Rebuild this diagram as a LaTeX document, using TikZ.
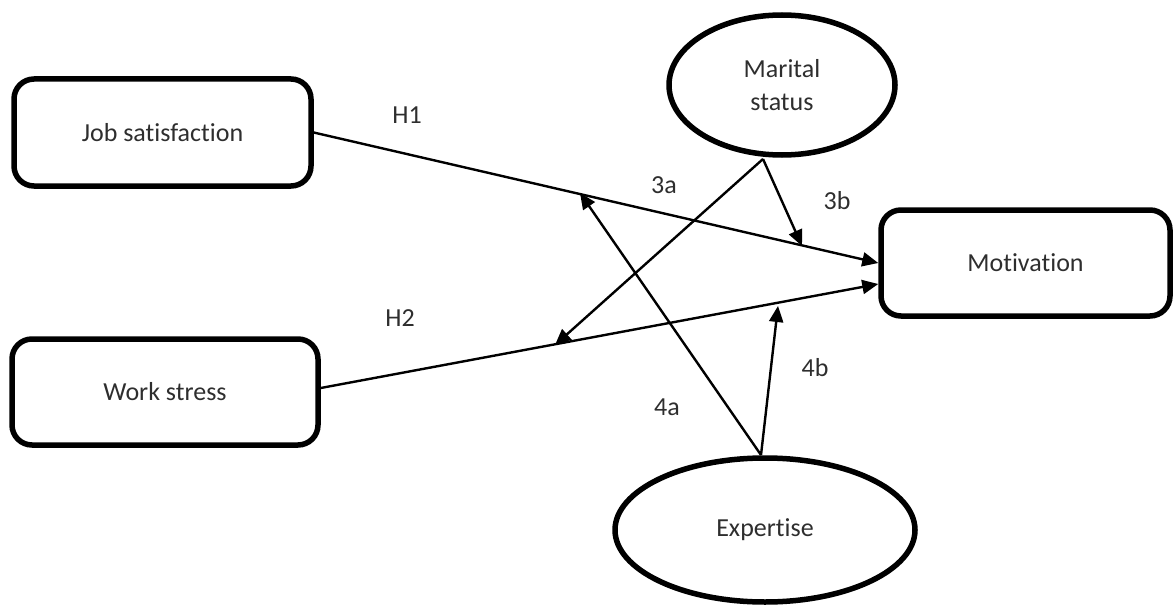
\documentclass[tikz,border=0pt]{standalone}
\usepackage{fontspec}
\setmainfont{Carlito}[Ligatures=NoCommon]
\usetikzlibrary{arrows.meta,shapes.geometric,calc}
\begin{document}
\begin{tikzpicture}[x=1pt,y=-1pt,
  txt/.style={text=black!82,font=\fontsize{26}{33}\selectfont},
  box/.style={txt,draw=black,line width=5.5pt,rounded corners=20pt,rectangle,inner sep=0pt},
  oval/.style={txt,draw=black,line width=5.5pt,line join=round,line cap=round,ellipse,inner sep=0pt,align=center},
  conn/.style={draw=black,line width=2.4pt,-{Triangle[length=16pt,width=14pt]}},
  lab/.style={txt}]
\useasboundingbox (0,0) rectangle (1173,610);
\node[box,minimum width=297pt,minimum height=107pt] (js) at (162.5,132.5) {Job satisfaction};
\node[box,minimum width=306pt,minimum height=106pt] (ws) at (165,392) {Work stress};
\node[box,minimum width=289pt,minimum height=106pt] (mot) at (1025.5,263) {Motivation};
\node[oval,minimum width=226pt,minimum height=140pt] (ms) at (782,85) {Marital\\status};
\node[oval,minimum width=300pt,minimum height=144pt] (ex) at (765,530) {Expertise};
% connector end points
\coordinate (h2s) at ($(ws.east)+(0,-4)$);
\coordinate (h2e) at ($(mot.west)+(0,21)$);
\coordinate (apM) at (763,159);
\coordinate (apE) at (761,455);
\coordinate (t3a) at (555,345);
\coordinate (t3b) at (802,246);
\coordinate (t4a) at (580,193);
\coordinate (t4b) at (778,306);
% main paths
\draw[conn] (js.east) -- (mot.west);
\draw[conn] (h2s) -- (h2e);
% moderators
\draw[conn] (apM) -- (t3a);
\draw[conn] (apM) -- (t3b);
\draw[conn] (apE) -- (t4a);
\draw[conn] (apE) -- (t4b);
% labels
\node[lab] (lh1) at (407,115) {H1};
\node[lab] (lh2) at (400,318) {H2};
\node[lab] (l3a) at (664,185) {3a};
\node[lab] (l3b) at (837,201) {3b};
\node[lab] (l4a) at (667,407) {4a};
\node[lab] (l4b) at (815,368) {4b};
\end{tikzpicture}
\end{document}
